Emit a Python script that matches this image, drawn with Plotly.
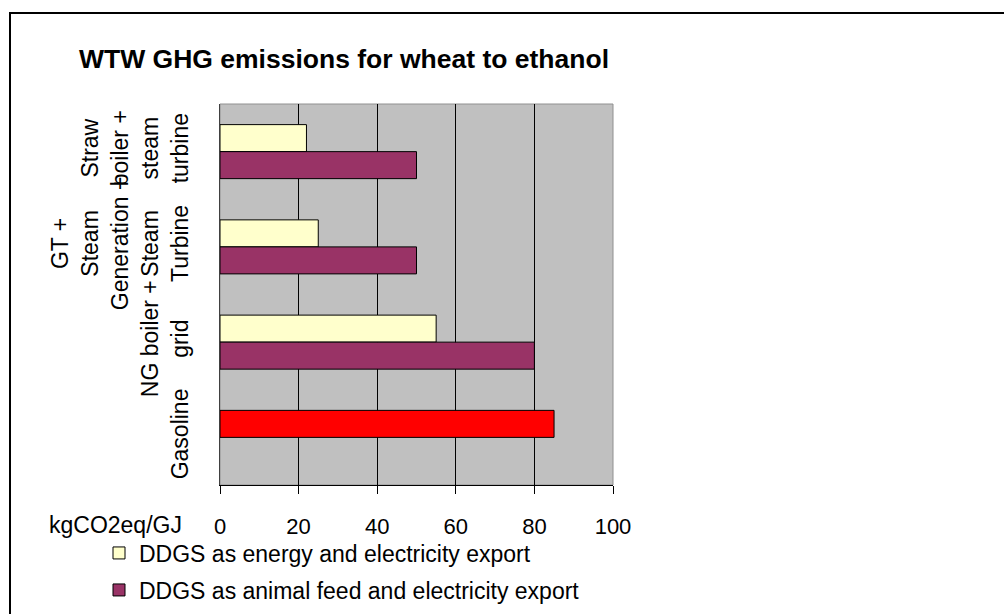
import plotly.graph_objects as go

categories = [
    "Straw<br>boiler +<br>steam<br>turbine",
    "GT +<br>Steam<br>Generation +<br>Steam<br>Turbine",
    "NG boiler +<br>grid",
    "Gasoline",
]
energy_export = [22, 25, 55, 85]
energy_colors = ["#FFFFCC", "#FFFFCC", "#FFFFCC", "#FF0000"]
feed_export = [50, 50, 80, None]
x_ticks = [0, 20, 40, 60, 80, 100]

W, H = 1004, 614
L, R, T, B = 220, 391, 104, 129
pw, ph = W - L - R, H - T - B

def px(x):
    return (x - L) / pw

def py(y):
    return (H - B - y) / ph

fig = go.Figure()
fig.add_trace(go.Bar(
    y=categories, x=energy_export, orientation="h",
    name="DDGS as energy and electricity export",
    marker=dict(color=energy_colors, line=dict(color="black", width=1)),
    legend="legend",
))
fig.add_trace(go.Bar(
    y=categories, x=feed_export, orientation="h",
    name="DDGS as animal feed and electricity export",
    marker=dict(color="#993366", line=dict(color="black", width=1)),
    legend="legend2",
))

leg_common = dict(xanchor="left", yanchor="middle", font=dict(size=23),
                  bgcolor="rgba(0,0,0,0)", borderwidth=0)

fig.update_layout(
    width=W, height=H,
    margin=dict(l=L, r=R, t=T, b=B, autoexpand=False),
    paper_bgcolor="white",
    plot_bgcolor="#C0C0C0",
    barmode="group", bargap=0.433, bargroupgap=0,
    font=dict(family="Arial, Liberation Sans, sans-serif", color="black", size=22),
    title=dict(
        text="<b>WTW GHG emissions for wheat to ethanol</b>",
        font=dict(size=26.5, color="black"),
        xref="container", x=79 / W, xanchor="left",
        yref="container", y=1 - 59 / H, yanchor="middle",
    ),
    showlegend=True,
    legend=dict(x=px(99), y=py(553), **leg_common),
    legend2=dict(x=px(99), y=py(590), **leg_common),
    xaxis=dict(
        range=[0, 100], tickvals=x_ticks, ticktext=[str(v) for v in x_ticks],
        showgrid=True, gridcolor="black", gridwidth=1,
        zeroline=False, automargin=False,
        showline=True, linecolor="black", linewidth=1,
        ticks="outside", ticklen=8, tickcolor="black",
        tickfont=dict(size=22),
        ticklabelstandoff=14,
    ),
    yaxis=dict(
        autorange="reversed", automargin=False,
        showgrid=False, zeroline=False,
        showline=True, linecolor="#404040", linewidth=1,
        tickangle=-90, tickfont=dict(size=23),
        ticks="",
        ticklabelstandoff=22,
    ),
    shapes=[
        dict(type="rect", xref="x domain", yref="y domain", x0=0, x1=1, y0=0, y1=1,
             line=dict(color="#909090", width=1), layer="below"),
        dict(type="rect", xref="paper", yref="paper",
             x0=px(10), x1=px(1012), y0=py(622), y1=py(13),
             line=dict(color="black", width=2), fillcolor="rgba(0,0,0,0)"),
    ],
    annotations=[
        dict(text="kgCO2eq/GJ", xref="paper", yref="paper", x=px(47), y=py(525),
             xanchor="left", yanchor="middle", showarrow=False, font=dict(size=23)),
    ],
)

fig.write_html("out.html")
